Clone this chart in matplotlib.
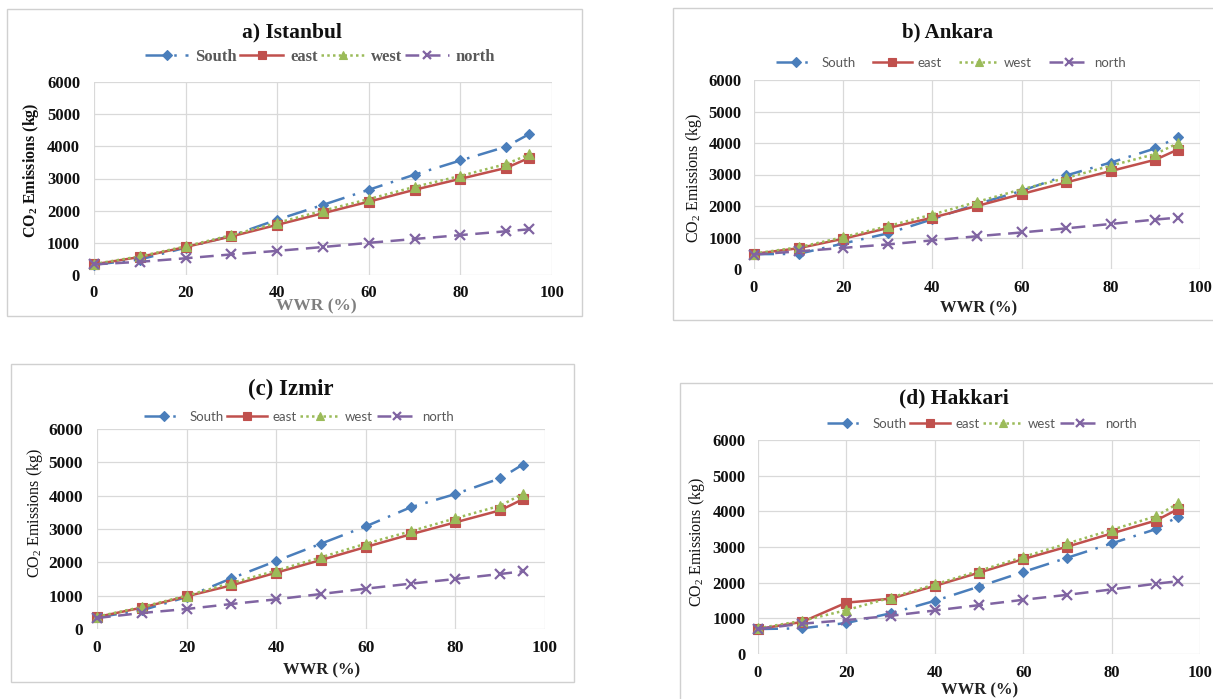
import matplotlib
matplotlib.use("Agg")
import matplotlib.pyplot as plt
from matplotlib.patches import Rectangle
from matplotlib.lines import Line2D

plt.rcParams["mathtext.fontset"] = "custom"
plt.rcParams["mathtext.rm"] = "Liberation Serif"
plt.rcParams["mathtext.bf"] = "Liberation Serif:bold"

# Window-to-wall ratio (%)
wwr = [0, 10, 20, 30, 40, 50, 60, 70, 80, 90, 95]

# CO2 emissions (kg) by facade orientation
ist_south = [320, 480, 850, 1220, 1720, 2180, 2650, 3120, 3560, 3990, 4380]
ist_east = [330, 560, 870, 1200, 1560, 1920, 2280, 2650, 2990, 3330, 3640]
ist_west = [340, 580, 890, 1240, 1620, 2000, 2360, 2740, 3080, 3450, 3750]
ist_north = [330, 410, 520, 640, 750, 870, 1000, 1120, 1240, 1360, 1420]

ank_south = [470, 480, 810, 1130, 1580, 2060, 2480, 2970, 3380, 3830, 4190]
ank_east = [480, 660, 960, 1300, 1630, 2000, 2380, 2750, 3110, 3470, 3790]
ank_west = [490, 690, 1010, 1360, 1730, 2130, 2530, 2890, 3280, 3650, 3990]
ank_north = [460, 560, 670, 780, 910, 1040, 1160, 1290, 1430, 1570, 1630]

izm_south = [350, 560, 960, 1520, 2040, 2560, 3080, 3650, 4050, 4520, 4930]
izm_east = [360, 640, 980, 1310, 1690, 2070, 2460, 2840, 3200, 3560, 3890]
izm_west = [370, 660, 1000, 1380, 1750, 2150, 2560, 2930, 3320, 3700, 4050]
izm_north = [330, 480, 600, 750, 890, 1050, 1210, 1360, 1500, 1650, 1730]

hak_south = [700, 720, 870, 1140, 1490, 1890, 2300, 2700, 3100, 3500, 3850]
hak_east = [700, 900, 1440, 1550, 1910, 2280, 2660, 3010, 3380, 3740, 4060]
hak_west = [720, 930, 1230, 1580, 1950, 2330, 2720, 3100, 3480, 3860, 4220]
hak_north = [700, 850, 950, 1070, 1220, 1370, 1520, 1660, 1810, 1970, 2040]

series_names = ["South", "east", "west", "north"]
x_ticks = [0, 20, 40, 60, 80, 100]
y_ticks = [0, 1000, 2000, 3000, 4000, 5000, 6000]

W, H = 1213, 699
fig = plt.figure(figsize=(W / 100, H / 100), dpi=100)
fig.patch.set_facecolor("white")


def fx(x):
    return x / W


def fy(y):
    return 1 - y / H


STYLES = [
    dict(color="#4A7EBB", ls=(0, (8, 3.5, 1, 3.5)), marker="D", ms=5.5, mew=0.8),
    dict(color="#C0504D", ls="-", marker="s", ms=7, mew=0.8),
    dict(color="#9BBB59", ls=(0, (1, 1.3)), marker="^", ms=7, mew=0.8),
    dict(color="#8064A2", ls=(0, (5.5, 3)), marker="x", ms=7, mew=1.6),
]

SERIF = "Liberation Serif"


def panel(cfg, data):
    # outer chart frame
    bx0, by0, bx1, by1 = cfg["box"]
    fig.patches.append(Rectangle((fx(bx0), fy(by1)), (bx1 - bx0) / W, (by1 - by0) / H,
                                 transform=fig.transFigure, fill=False,
                                 edgecolor="#D0D0D0", lw=1.0, zorder=0))
    px0, px1, py_top, py_bot = cfg["plot"]
    ax = fig.add_axes([fx(px0), fy(py_bot), (px1 - px0) / W, (py_bot - py_top) / H])
    ax.set_xlim(0, 100)
    ax.set_ylim(0, 6000)
    ax.set_xticks(x_ticks)
    ax.set_yticks(y_ticks)
    ax.grid(True, color="#D9D9D9", lw=0.9)
    ax.set_axisbelow(True)
    for s in ax.spines.values():
        s.set_visible(False)
    ax.tick_params(length=0)
    ax.tick_params(axis="y", pad=cfg["ypad"])
    ax.tick_params(axis="x", pad=cfg["xpad"])
    for lab in ax.get_xticklabels() + ax.get_yticklabels():
        lab.set_fontfamily(SERIF)
        lab.set_fontweight("bold")
        lab.set_fontsize(cfg["tick_fs"])
        lab.set_color("#111111")
    for vals, st in zip(data, STYLES):
        ax.plot(wwr, vals, color=st["color"], ls=st["ls"], lw=1.8,
                marker=st["marker"], ms=st["ms"], mew=st["mew"],
                mec=st["color"], mfc=st["color"], clip_on=False)

    fig.text(fx(cfg["title_xy"][0]), fy(cfg["title_xy"][1]), cfg["title"],
             ha="center", va="center", fontfamily=SERIF, fontweight="bold",
             fontsize=cfg["title_fs"], color="#111111")
    fig.text(fx(cfg["xlabel_xy"][0]), fy(cfg["xlabel_xy"][1]), "WWR (%)",
             ha="center", va="center", fontfamily=SERIF, fontweight="bold",
             fontsize=cfg["xlabel_fs"], color=cfg["xlabel_color"])
    ylab = r"CO$_\mathbf{2}$ Emissions (kg)" if cfg["ylabel_bold"] else r"CO$_2$ Emissions (kg)"
    fig.text(fx(cfg["ylabel_xy"][0]), fy(cfg["ylabel_xy"][1]), ylab,
             ha="center", va="center", rotation=90, fontfamily=SERIF,
             fontweight="bold" if cfg["ylabel_bold"] else "normal",
             fontsize=cfg["ylabel_fs"], color="#111111")

    handles = [Line2D([], [], color=st["color"], ls=st["ls"], lw=1.8,
                      marker=st["marker"], ms=st["ms"], mew=st["mew"])
               for st in STYLES]
    fig.legend(handles, series_names, loc="center", ncol=4, frameon=False,
               bbox_to_anchor=(fx(cfg["legend_xy"][0]), fy(cfg["legend_xy"][1])),
               bbox_transform=fig.transFigure, handlelength=cfg["handlelength"],
               handletextpad=0.4, columnspacing=cfg["colspace"],
               prop=cfg["legend_prop"], labelcolor="#595959", markerscale=0.9)


panels = [
    dict(box=(7, 9, 582, 316), plot=(94, 552, 82, 275), ypad=10, xpad=7, tick_fs=12,
         title="a) Istanbul", title_xy=(292, 32), title_fs=15.5,
         xlabel_xy=(316, 306), xlabel_fs=12.5, xlabel_color="#7F7F7F",
         ylabel_xy=(31, 170), ylabel_fs=11.5, ylabel_bold=True,
         legend_xy=(320, 57), handlelength=2.6, colspace=0.2,
         legend_prop=dict(family=SERIF, weight="bold", size=12)),
    dict(box=(673, 8, 1230, 320), plot=(754, 1200, 80, 269), ypad=9, xpad=8, tick_fs=12,
         title="b) Ankara", title_xy=(947, 32), title_fs=15,
         xlabel_xy=(979, 308), xlabel_fs=12, xlabel_color="#222222",
         ylabel_xy=(694, 178), ylabel_fs=11.5, ylabel_bold=False,
         legend_xy=(951, 63), handlelength=3.0, colspace=1.3,
         legend_prop=dict(family="Lato", size=9.5)),
    dict(box=(11, 364, 574, 682), plot=(97, 545, 429, 629), ypad=10, xpad=8, tick_fs=12.5,
         title="(c) Izmir", title_xy=(291, 389), title_fs=16.5,
         xlabel_xy=(322, 670), xlabel_fs=12, xlabel_color="#222222",
         ylabel_xy=(35, 513), ylabel_fs=11.5, ylabel_bold=False,
         legend_xy=(299, 417), handlelength=3.0, colspace=0.3,
         legend_prop=dict(family="Lato", size=9.5)),
    dict(box=(680, 383, 1230, 710), plot=(758, 1200, 440, 654), ypad=9, xpad=8, tick_fs=12,
         title="(d) Hakkari", title_xy=(954, 398), title_fs=15.5,
         xlabel_xy=(980, 690), xlabel_fs=12, xlabel_color="#222222",
         ylabel_xy=(697, 542), ylabel_fs=11.5, ylabel_bold=False,
         legend_xy=(982, 424), handlelength=3.0, colspace=0.3,
         legend_prop=dict(family="Lato", size=9.5)),
]

city_data = [
    [ist_south, ist_east, ist_west, ist_north],
    [ank_south, ank_east, ank_west, ank_north],
    [izm_south, izm_east, izm_west, izm_north],
    [hak_south, hak_east, hak_west, hak_north],
]

for cfg, data in zip(panels, city_data):
    panel(cfg, data)

fig.savefig("out.png", dpi=100, facecolor="white")
